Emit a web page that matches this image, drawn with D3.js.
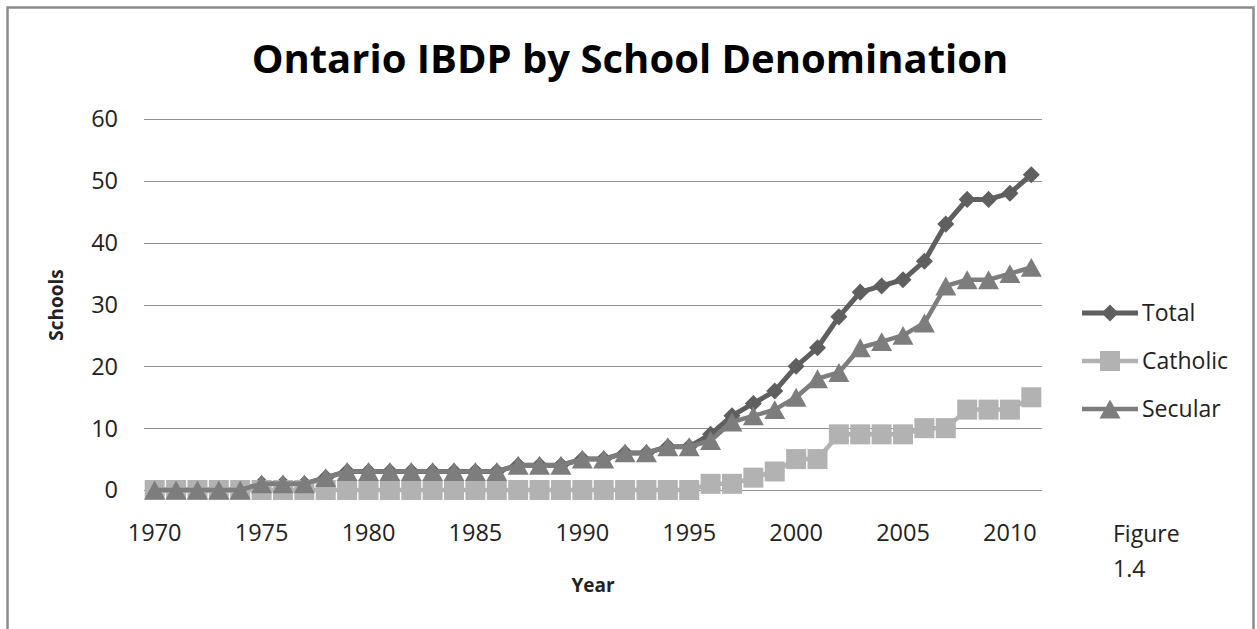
<!DOCTYPE html>
<html>
<head>
<meta charset="utf-8">
<script src="https://cdn.jsdelivr.net/npm/d3@7"></script>
<style>
  body { margin: 0; background: #fff; }
  text { font-family: "Open Sans", sans-serif; fill: #222; }
</style>
</head>
<body>
<svg id="chart" width="1257" height="629"></svg>
<script>
// data
const years = d3.range(1970, 2012);
const total = [0,0,0,0,0,1,1,1,2,3,3,3,3,3,3,3,3,4,4,4,5,5,6,6,7,7,9,12,14,16,20,23,28,32,33,34,37,43,47,47,48,51];
const catholic = [0,0,0,0,0,0,0,0,0,0,0,0,0,0,0,0,0,0,0,0,0,0,0,0,0,0,1,1,2,3,5,5,9,9,9,9,10,10,13,13,13,15];
const secular = [0,0,0,0,0,1,1,1,2,3,3,3,3,3,3,3,3,4,4,4,5,5,6,6,7,7,8,11,12,13,15,18,19,23,24,25,27,33,34,34,35,36];
const yTicks = [0, 10, 20, 30, 40, 50, 60];
const xLabels = [1970, 1975, 1980, 1985, 1990, 1995, 2000, 2005, 2010];

// custom markers, centred on their bounding box like Excel's
const diamond = {draw(ctx, size) {
  const r = Math.sqrt(size) / 2;
  ctx.moveTo(0, -r); ctx.lineTo(r, 0); ctx.lineTo(0, r); ctx.lineTo(-r, 0); ctx.closePath();
}};
const square = {draw(ctx, size) {
  const r = Math.sqrt(size) / 2;
  ctx.rect(-r, -r, 2 * r, 2 * r);
}};
const triangle = {draw(ctx, size) {
  const r = Math.sqrt(size) / 2;
  ctx.moveTo(0, -r * 0.9); ctx.lineTo(r, r * 0.9); ctx.lineTo(-r, r * 0.9); ctx.closePath();
}};

const series = [
  {name: "Total", values: total, color: "#5f5f5f", width: 5, symbol: diamond, size: 290},
  {name: "Catholic", values: catholic, color: "#b2b2b2", width: 4.5, symbol: square, size: 400},
  {name: "Secular", values: secular, color: "#7d7d7d", width: 4.5, symbol: triangle, size: 440}
];

const svg = d3.select("#chart");

svg.append("rect").attr("width", 1257).attr("height", 629).attr("fill", "#fff");
// chart frame
svg.append("rect")
    .attr("x", 7.5).attr("y", 7.5)
    .attr("width", 1246).attr("height", 700)
    .attr("fill", "none").attr("stroke", "#8c8c8c").attr("stroke-width", 2.5);

const x = d3.scaleBand().domain(years).range([144, 1042]).paddingInner(0).paddingOuter(0);
const cx = d => x(d) + x.bandwidth() / 2;
const y = d3.scaleLinear().domain([0, 60]).range([490, 119]);

// gridlines
svg.append("g").selectAll("line")
    .data(yTicks).enter()
    .append("line")
        .attr("x1", 144).attr("x2", 1042)
        .attr("y1", d => Math.round(y(d)) + 0.5).attr("y2", d => Math.round(y(d)) + 0.5)
        .attr("stroke", "#929292").attr("stroke-width", 1.2);

// y tick labels
svg.append("g").selectAll("text")
    .data(yTicks).enter()
    .append("text")
        .attr("x", 118).attr("y", d => y(d))
        .attr("dy", "0.36em")
        .style("text-anchor", "end")
        .style("font-size", "23.5px")
        .text(d => d);

// x tick labels
svg.append("g").selectAll("text")
    .data(xLabels).enter()
    .append("text")
        .attr("x", d => cx(d)).attr("y", 541)
        .style("text-anchor", "middle")
        .style("font-size", "23.5px")
        .text(d => d);

// lines + markers, later series on top
const line = d3.line().x(d => cx(d.year)).y(d => y(d.value));
series.forEach(s => {
  const pts = years.map((yr, i) => ({year: yr, value: s.values[i]}));
  svg.append("path")
      .attr("d", line(pts))
      .attr("fill", "none")
      .attr("stroke", s.color)
      .attr("stroke-width", s.width)
      .attr("stroke-linejoin", "round");
  svg.append("g").selectAll("path")
      .data(pts).enter()
      .append("path")
          .attr("transform", d => "translate(" + cx(d.year) + "," + y(d.value) + ")")
          .attr("d", d3.symbol().type(s.symbol).size(s.size))
          .attr("fill", s.color);
});

// title
svg.append("text")
    .attr("x", 630).attr("y", 73)
    .style("text-anchor", "middle")
    .style("font-size", "40px")
    .style("font-weight", "bold")
    .style("fill", "#000")
    .text("Ontario IBDP by School Denomination");

// axis titles
svg.append("text")
    .attr("transform", "translate(63,305) rotate(-90)")
    .style("text-anchor", "middle")
    .style("font-size", "19px")
    .style("font-weight", "bold")
    .text("Schools");
svg.append("text")
    .attr("x", 593).attr("y", 592)
    .style("text-anchor", "middle")
    .style("font-size", "19px")
    .style("font-weight", "bold")
    .text("Year");

// legend
const legend = svg.append("g").selectAll("g")
    .data(series).enter()
    .append("g")
        .attr("transform", (d, i) => "translate(0," + (313 + i * 48) + ")");
legend.append("line")
    .attr("x1", 1082).attr("x2", 1138)
    .attr("stroke", d => d.color).attr("stroke-width", d => d.width);
legend.append("path")
    .attr("transform", "translate(1110,0)")
    .attr("d", d => d3.symbol().type(d.symbol).size(d.size)())
    .attr("fill", d => d.color);
legend.append("text")
    .attr("x", 1142).attr("dy", "0.36em")
    .style("font-size", "23px")
    .text(d => d.name);

// figure note
svg.append("text")
    .attr("x", 1113).attr("y", 542)
    .style("font-size", "23px")
    .text("Figure");
svg.append("text")
    .attr("x", 1113).attr("y", 577)
    .style("font-size", "23px")
    .text("1.4");
</script>
</body>
</html>
